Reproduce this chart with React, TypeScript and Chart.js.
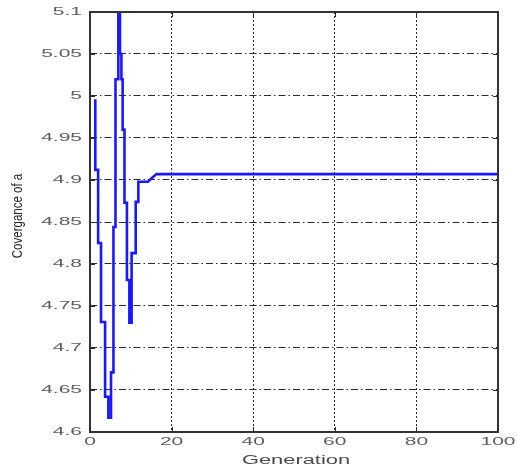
import { useEffect, useRef } from 'react';
import { Chart, registerables } from 'chart.js';

Chart.register(...registerables);

// Polyline of the convergence trace (generation, value of a)
const GENERATION = [
  1.3, 1.3, 2.0, 2.0, 2.7, 2.7, 3.7, 3.7, 4.5, 4.5, 5.15, 5.15, 5.75, 5.75,
  6.25, 6.25, 6.95, 6.95, 7.35, 7.35, 7.7, 7.7, 8.0, 8.0, 8.45, 8.45, 9.05, 9.05,
  9.65, 9.65, 10.2, 10.2, 11.2, 11.2, 11.85, 11.85, 14.2, 15.3, 16.3, 100,
];
const CONVERGENCE_A = [
  4.996, 4.912, 4.912, 4.825, 4.825, 4.731, 4.731, 4.642, 4.642, 4.617, 4.617, 4.671,
  4.671, 4.844, 4.844, 5.02, 5.02, 5.12, 5.12, 5.05, 5.05, 5.02, 5.02, 4.96, 4.96, 4.873,
  4.873, 4.781, 4.781, 4.73, 4.73, 4.813, 4.813, 4.874, 4.874, 4.898, 4.898, 4.903, 4.907, 4.907,
];

const X_TICKS = [0, 20, 40, 60, 80, 100];
const X_TICK_LABELS = ['0', '20', '40', '60', '80', '100'];
const Y_TICKS = [4.6, 4.65, 4.7, 4.75, 4.8, 4.85, 4.9, 4.95, 5.0, 5.05, 5.1];
const Y_TICK_LABELS = ['4.6', '4.65', '4.7', '4.75', '4.8', '4.85', '4.9', '4.95', '5', '5.05', '5.1'];

const X_TITLE = 'Generation';
const Y_TITLE = 'Covergance of a';

const FONT = '"Liberation Sans", Arial, sans-serif';

function stretchText(
  ctx: CanvasRenderingContext2D,
  text: string,
  x: number,
  y: number,
  sx: number,
  align: CanvasTextAlign
) {
  ctx.save();
  ctx.translate(x, y);
  ctx.scale(sx, 1);
  ctx.textAlign = align;
  ctx.textBaseline = 'middle';
  ctx.fillText(text, 0, 0);
  ctx.restore();
}

const matlabFrame = {
  id: 'matlabFrame',
  afterDraw(chart: any) {
    const { ctx, chartArea: a, scales } = chart;
    const xs = scales.x;
    const ys = scales.y;
    ctx.save();
    ctx.setLineDash([]);
    // inward tick marks
    ctx.strokeStyle = '#2a2a2a';
    ctx.lineWidth = 1;
    ctx.beginPath();
    Y_TICKS.forEach((v) => {
      const y = Math.round(ys.getPixelForValue(v)) + 0.5;
      ctx.moveTo(a.left, y);
      ctx.lineTo(a.left + 5, y);
      ctx.moveTo(a.right, y);
      ctx.lineTo(a.right - 5, y);
    });
    X_TICKS.forEach((v) => {
      const x = Math.round(xs.getPixelForValue(v)) + 0.5;
      ctx.moveTo(x, a.bottom);
      ctx.lineTo(x, a.bottom - 5);
      ctx.moveTo(x, a.top);
      ctx.lineTo(x, a.top + 5);
    });
    ctx.stroke();
    // axes box
    ctx.lineWidth = 2;
    ctx.strokeStyle = '#333333';
    ctx.strokeRect(a.left, a.top, a.right - a.left, a.bottom - a.top);

    // tick labels
    ctx.fillStyle = '#5c5c5c';
    ctx.font = `10.5px ${FONT}`;
    Y_TICKS.forEach((v, i) => {
      stretchText(ctx, Y_TICK_LABELS[i], a.left - 8, ys.getPixelForValue(v) + 0.5, 2, 'right');
    });
    X_TICKS.forEach((v, i) => {
      stretchText(ctx, X_TICK_LABELS[i], xs.getPixelForValue(v), a.bottom + 10, 2, 'center');
    });

    // axis titles
    ctx.fillStyle = '#4a4a4a';
    ctx.font = `12.5px ${FONT}`;
    stretchText(ctx, X_TITLE, (a.left + a.right) / 2 + 2, a.bottom + 29, 1.75, 'center');

    ctx.fillStyle = '#262626';
    ctx.font = `11.5px ${FONT}`;
    ctx.save();
    ctx.translate(17.5, (a.top + a.bottom) / 2 - 6);
    ctx.rotate(-Math.PI / 2);
    ctx.scale(1, 1.3);
    ctx.textAlign = 'center';
    ctx.textBaseline = 'middle';
    ctx.fillText(Y_TITLE, 0, 0);
    ctx.restore();

    ctx.restore();
  },
};

export default function App() {
  const ref = useRef<HTMLCanvasElement>(null);

  useEffect(() => {
    document.body.style.margin = '0';
    const canvas = ref.current;
    if (!canvas) return;
    const points = GENERATION.map((g, i) => ({ x: g, y: CONVERGENCE_A[i] }));
    const chart = new Chart(canvas, {
      type: 'line',
      data: {
        datasets: [
          {
            data: points,
            borderColor: 'rgb(25,25,255)',
            borderWidth: 2.6,
            pointRadius: 0,
            tension: 0,
            fill: false,
          },
        ],
      },
      options: {
        responsive: false,
        animation: false,
        devicePixelRatio: 1,
        layout: { padding: { top: 12, right: 19, left: 0, bottom: 0 } },
        plugins: {
          legend: { display: false },
          tooltip: { enabled: false },
          title: { display: false },
        },
        scales: {
          x: {
            type: 'linear',
            min: 0,
            max: 100,
            afterBuildTicks: (scale: any) => {
              scale.ticks = X_TICKS.map((v) => ({ value: v }));
            },
            afterFit: (scale: any) => {
              scale.height = 34;
            },
            ticks: { display: false },
            grid: {
              color: '#2a2a2a',
              lineWidth: 1,
              drawTicks: false,
            },
            border: { display: false, dash: [2, 2] },
          },
          y: {
            type: 'linear',
            min: 4.6,
            max: 5.1,
            afterBuildTicks: (scale: any) => {
              scale.ticks = Y_TICKS.map((v) => ({ value: v }));
            },
            afterFit: (scale: any) => {
              scale.width = 90;
            },
            ticks: { display: false },
            grid: {
              color: '#2a2a2a',
              lineWidth: 1,
              drawTicks: false,
            },
            border: { display: false, dash: [7, 3, 1.5, 3] },
          },
        },
      },
      plugins: [matlabFrame],
    });
    return () => chart.destroy();
  }, []);

  return (
    <div style={{ width: 517, height: 466 }}>
      <canvas ref={ref} width={517} height={466} style={{ display: 'block' }} />
    </div>
  );
}
